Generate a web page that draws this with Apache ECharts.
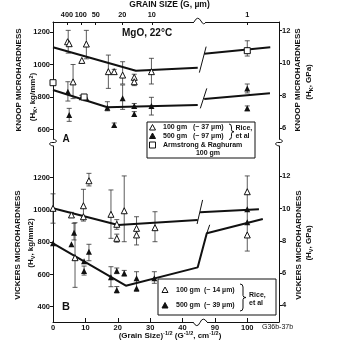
<!DOCTYPE html>
<html><head><meta charset="utf-8">
<script src="https://cdn.jsdelivr.net/npm/echarts@6/dist/echarts.min.js"></script>
<style>html,body{margin:0;padding:0;background:#fff}#c{width:348px;height:344px}</style>
</head><body><div id="c"></div>
<script>
// ---------------- data (x = (grain size)^-1/2 in cm^-1/2, y = hardness kg/mm^2) ----------------
const bottomTickValues = [0, 10, 20, 30, 40, 90, 100];
const topTickPos = [4.3, 8.6, 13.2, 21.4, 30.5, 100];
const topTickLabels = ['400', '100', '50', '20', '10', '1'];
const leftTicksA = [600, 800, 1000, 1200];
const rightTicksA = [6, 8, 10, 12];
const leftTicksB = [400, 600, 800, 1000, 1200];
const rightTicksB = [4, 6, 8, 10, 12];

// Panel A : Knoop
const knoop100 = [[4.5,1140],[5.0,1128],[8.9,1025],[6.2,893],[10.3,1126],[17.1,956],[18.9,956],[21.5,935],[25.1,921],[25.1,894],[30.4,956],[100,1089]];
const knoop100Err = [[4.7,1070,1210],[6.2,790,1000],[10.3,1035,1210],[17.1,853,1058],[18.9,945,970],[21.5,880,1017],[25.1,870,940],[30.4,880,1038],[100,1052,1146]];
const knoop500 = [[4.6,833],[5.0,689],[8.9,798],[10.3,793],[16.8,734],[18.9,628],[21.5,792],[25.1,745],[25.1,695],[30.4,745],[100,853],[100,730]];
const knoop500Err = [[4.6,775,894],[5.0,650,730],[8.9,785,810],[16.8,715,771],[18.9,615,640],[21.5,724,874],[25.1,730,760],[25.1,680,710],[30.4,689,798],[100,825,880],[100,715,745]];
const armstrong = [[0,888],[9.6,800],[100,1085]];
const knoopFit100 = [[[0,1106],[25.6,962],[44.7,980]], [[86.7,1066],[107.1,1106]]];
const knoopFit500 = [[[0,843],[16.8,737],[44.7,751]], [[86.7,788],[107,823]]];
const knoopBreaks = [[[45.2,950],[87.3,1110]], [[45.5,730],[87.5,853]]];

// Panel B : Vickers
const vick100 = [[0,1010],[5.7,969],[9.4,958],[9.4,1026],[11.1,1181],[6.8,704],[17.9,973],[19.7,911],[19.7,824],[22.0,995],[25.8,886],[25.8,845],[31.5,890],[100,1113],[100,845]];
const vick100Err = [[0,918,1100],[5.7,955,985],[9.4,931,1128],[11.1,1149,1227],[6.8,520,921],[17.9,824,1124],[19.7,880,940],[19.7,800,850],[22.0,803,1211],[25.8,783,958],[31.5,803,989],[100,745,1211]];
const vick500 = [[0,793],[5.7,787],[6.5,859],[11.1,741],[9.6,682],[9.6,621],[17.9,582],[19.7,623],[19.7,504],[22.0,607],[25.8,576],[25.8,514],[31.3,576],[100,1004],[100,923]];
const vick500Err = [[6.5,814,917],[11.1,685,787],[9.6,596,652],[17.9,524,648],[19.7,605,640],[19.7,485,525],[22.0,590,625],[25.8,495,617],[31.3,545,617]];
const vickFit100 = [[[0,1010],[20.1,907],[44.7,938]], [[85.4,985],[103.6,1004]]];
const vickFit500 = [[[0,793],[22.5,530],[44.7,644],[87.5,855],[104.8,944]]];
const vickBreaks = [[[44.5,913],[86.2,1062]], [[87.5,855],[88.4,908]]];

// ---------------- layout / style ----------------
const FONT = '"Liberation Sans", Arial, Helvetica, sans-serif';
const INK = '#111';
const L = 53, R = 279, TA = 22, BA = 139, TB = 146, BB = 322;
const X_MAX = 69.8;
const A_MIN = 541.5, A_MAX = 1261.5, B_MIN = 305.1, B_MAX = 1396.6;
const gpa = v => (v - 8) / 100;
const tx = x => (x > 60 ? x - 40 : x);          // axis break 45..85
const pts = a => a.map(p => [tx(p[0]), p[1]]);
const errs = a => a.map(p => [tx(p[0]), p[1], p[2]]);

const labelStyle = (size) => ({fontFamily: FONT, fontWeight: 'bold', fontSize: size, color: INK});

function yAx(grid, pos, min, max, ticks) {
  return {gridIndex: grid, type: 'value', position: pos, min, max,
    axisLine: {show: true, onZero: false, lineStyle: {color: INK, width: 1}},
    axisTick: {show: true, length: 3, customValues: ticks, lineStyle: {color: INK, width: 1}},
    axisLabel: Object.assign({customValues: ticks, margin: 3, formatter: v => String(Math.round(v))}, labelStyle(7.5)),
    splitLine: {show: false}};
}

function errSeries(data, xi, yi) {
  return {type: 'custom', xAxisIndex: xi, yAxisIndex: yi, data: errs(data), encode: {x: 0, y: [1, 2]}, z: 2, silent: true,
    renderItem(params, api) {
      const x = api.value(0), lo = api.value(1), hi = api.value(2);
      const a = api.coord([x, lo]), b = api.coord([x, hi]);
      const w = 2.5, st = {stroke: '#333', lineWidth: 0.8, fill: null};
      return {type: 'group', children: [
        {type: 'line', shape: {x1: a[0], y1: a[1], x2: b[0], y2: b[1]}, style: st},
        {type: 'line', shape: {x1: a[0] - w, y1: a[1], x2: a[0] + w, y2: a[1]}, style: st},
        {type: 'line', shape: {x1: b[0] - w, y1: b[1], x2: b[0] + w, y2: b[1]}, style: st}]};
    }};
}
function scat(data, xi, yi, symbol, filled, size) {
  return {type: 'scatter', xAxisIndex: xi, yAxisIndex: yi, data: pts(data), symbol, symbolSize: size, z: 5, silent: true,
    itemStyle: {color: filled ? INK : '#fff', borderColor: INK, borderWidth: filled ? 0 : 1, opacity: 1}};
}
function seg(data, xi, yi, w) {
  return {type: 'line', xAxisIndex: xi, yAxisIndex: yi, data: pts(data), symbol: 'none', z: 3, silent: true,
    lineStyle: {color: INK, width: w}};
}

const series = [];
series.push(errSeries(knoop100Err, 0, 0), errSeries(knoop500Err, 0, 0));
knoopFit100.forEach(s => series.push(seg(s, 0, 0, 2)));
knoopFit500.forEach(s => series.push(seg(s, 0, 0, 2)));
knoopBreaks.forEach(s => series.push(seg(s, 0, 0, 1)));
series.push(scat(knoop100, 0, 0, 'triangle', false, 6), scat(knoop500, 0, 0, 'triangle', true, 6), scat(armstrong, 0, 0, 'rect', false, 6));
series.push(errSeries(vick100Err, 1, 2), errSeries(vick500Err, 1, 2));
vickFit100.forEach(s => series.push(seg(s, 1, 2, 2)));
vickFit500.forEach(s => series.push(seg(s, 1, 2, 2)));
vickBreaks.forEach(s => series.push(seg(s, 1, 2, 1)));
series.push(scat(vick100, 1, 2, 'triangle', false, 6), scat(vick500, 1, 2, 'triangle', true, 6));

// ---------------- decorations ----------------
const brace = (x, y1, y2, w) => {
  const ym = (y1 + y2) / 2, h = w / 2;
  return `M${x},${y1} Q${x + h},${y1} ${x + h},${y1 + 3} L${x + h},${ym - 2} Q${x + h},${ym} ${x + w},${ym} Q${x + h},${ym} ${x + h},${ym + 2} L${x + h},${y2 - 3} Q${x + h},${y2} ${x},${y2}`;
};
const decoPaths = [
  'M194,22 Q197.5,15 201,21 Q203.5,26 206,22',
  'M193,322 Q197,329 200,322.5 Q203,316 207,322',
  `M${L},${BA} C${L + 5},${BA + 1} ${L + 4},${BA + 4} ${L},${BA + 3.5} C${L - 4},${BA + 3} ${L - 5},${TB - 1} ${L},${TB}`,
  `M${R},${BA} C${R + 5},${BA + 1} ${R + 4},${BA + 4} ${R},${BA + 3.5} C${R - 4},${BA + 3} ${R - 5},${TB - 1} ${R},${TB}`,
  brace(229, 124, 139.5, 5),
  brace(240, 284, 311, 6)
];
const decoCovers = [[194, 19, 12, 6], [193, 320, 14, 4]];
series.push({type: 'custom', coordinateSystem: 'none', data: [0], z: 120, silent: true,
  renderItem() {
    const ch = [];
    decoCovers.forEach(c => ch.push({type: 'rect', shape: {x: c[0], y: c[1], width: c[2], height: c[3]}, style: {fill: '#fff'}}));
    decoPaths.forEach(d => ch.push({type: 'path', shape: {pathData: d}, style: {stroke: INK, lineWidth: 1, fill: null}}));
    return {type: 'group', children: ch};
  }});

const T = (x, y, text, o = {}) => ({type: 'text', x, y, rotation: o.rot || 0, z: 100, silent: true,
  style: Object.assign({text, fontFamily: FONT, fontWeight: o.w || 'bold', fontSize: o.s || 8, fill: INK,
    textAlign: o.a || 'left', textVerticalAlign: 'middle'}, o.rich ? {rich: o.rich} : {})});
const RECT = (x, y, w, h) => ({type: 'rect', z: 98, silent: true, shape: {x, y, width: w, height: h},
  style: {fill: '#fff', stroke: INK, lineWidth: 1}});
const TRI = (x, y, filled) => ({type: 'polygon', z: 101, silent: true, shape: {points: [[x, y - 3], [x + 3, y + 2.5], [x - 3, y + 2.5]]},
  style: {fill: filled ? INK : '#fff', stroke: INK, lineWidth: 1}});
const SQ = (x, y) => ({type: 'rect', z: 101, silent: true, shape: {x: x - 3, y: y - 3, width: 6, height: 6}, style: {fill: '#fff', stroke: INK, lineWidth: 1}});
const sub = {fontFamily: FONT, fontWeight: 'bold', fontSize: 5.5, verticalAlign: 'bottom', lineHeight: 10};
const sup = {fontFamily: FONT, fontWeight: 'bold', fontSize: 5.5, verticalAlign: 'top', lineHeight: 10};
const nb = {fontFamily: FONT, fontWeight: 'bold', fontSize: 8, lineHeight: 10};
const richTxt = {n: nb, s: sub, u: sup};
const rot = Math.PI / 2;

const graphic = [
  T(169.5, 5, 'GRAIN SIZE (G, µm)', {a: 'center', s: 8.5}),
  T(122, 33, 'MgO, 22°C', {s: 10}),
  T(62.5, 139, 'A', {s: 10}),
  T(62, 306.5, 'B', {s: 11}),
  T(19, 80, 'KNOOP MICROHARDNESS', {rot, a: 'center'}),
  T(33, 97, '{n|(H}{s|K}{n|, kg/mm}{u|2}{n|)}', {rot, a: 'center', rich: richTxt}),
  T(18, 245, 'VICKERS MICROHARDNESS', {rot, a: 'center'}),
  T(31, 243, '{n|(H}{s|V}{n|, kg/mm2)}', {rot, a: 'center', rich: richTxt}),
  T(297.5, 80, 'KNOOP MICROHARDNESS', {rot, a: 'center'}),
  T(309, 82, '{n|(H}{s|K}{n|, GPa)}', {rot, a: 'center', rich: richTxt}),
  T(299, 245, 'VICKERS MICROHARDNESS', {rot, a: 'center'}),
  T(309, 243, '{n|(H}{s|V}{n|, GPa)}', {rot, a: 'center', rich: richTxt}),
  T(170, 335.5, '{n|(Grain Size)}{u|-1/2}{n| (G}{u|-1/2}{n|, cm}{u|-1/2}{n|)}', {a: 'center', rich: richTxt}),
  T(262, 327, 'G36b-37b', {w: 'normal', s: 7}),
  // legend A
  RECT(147, 122, 108, 36),
  TRI(152.5, 127.5, false), T(163, 127.5, '100 gm', {s: 7}), T(193, 127.5, '(~ 37 µm)', {s: 7}),
  TRI(152.5, 136, true), T(163, 136, '500 gm', {s: 7}), T(193, 136, '(~ 97 µm)', {s: 7}),
  T(235.5, 128, 'Rice,', {s: 7}), T(235.5, 136, 'et al', {s: 7}),
  SQ(152.5, 145), T(163, 145, 'Armstrong & Raghuram', {s: 7}),
  T(208, 153.5, '100 gm', {s: 7, a: 'center'}),
  // legend B
  RECT(158, 279, 118, 36),
  TRI(165, 290, false), T(176, 290, '100 gm  (~ 14 µm)', {s: 7}),
  TRI(165, 305.5, true), T(176, 305.5, '500 gm  (~ 39 µm)', {s: 7}),
  T(249, 295, 'Rice,', {s: 7}), T(249, 303, 'et al', {s: 7})
];

const bottomCustom = bottomTickValues.map(tx);
const topCustom = topTickPos.map(tx);

const option = {
  animation: false,
  backgroundColor: '#fff',
  grid: [
    {left: L, right: 348 - R, top: TA, height: BA - TA},
    {left: L, right: 348 - R, top: TB, height: BB - TB}
  ],
  xAxis: [
    {gridIndex: 0, type: 'value', position: 'top', min: 0, max: X_MAX,
      axisLine: {show: true, onZero: false, lineStyle: {color: INK, width: 1}},
      axisTick: {show: true, inside: true, length: 3, customValues: topCustom, lineStyle: {color: INK}},
      axisLabel: Object.assign({customValues: topCustom, margin: 4,
        formatter: v => { const i = topCustom.findIndex(c => Math.abs(c - v) < 1e-6); return i >= 0 ? topTickLabels[i] : ''; }}, labelStyle(7.3)),
      splitLine: {show: false}},
    {gridIndex: 1, type: 'value', position: 'bottom', min: 0, max: X_MAX,
      axisLine: {show: true, onZero: false, lineStyle: {color: INK, width: 1}},
      axisTick: {show: true, inside: true, length: 4, customValues: bottomCustom, lineStyle: {color: INK}},
      axisLabel: Object.assign({customValues: bottomCustom, margin: 2,
        formatter: v => { const i = bottomCustom.findIndex(c => Math.abs(c - v) < 1e-6); return i >= 0 ? String(bottomTickValues[i]) : ''; }}, labelStyle(7.5)),
      splitLine: {show: false}}
  ],
  yAxis: [
    yAx(0, 'left', A_MIN, A_MAX, leftTicksA),
    yAx(0, 'right', gpa(A_MIN), gpa(A_MAX), rightTicksA),
    yAx(1, 'left', B_MIN, B_MAX, leftTicksB),
    yAx(1, 'right', gpa(B_MIN), gpa(B_MAX), rightTicksB)
  ],
  series,
  graphic
};

const chart = echarts.init(document.getElementById('c'), null, {renderer: 'canvas'});
chart.setOption(option);
</script>
</body></html>
